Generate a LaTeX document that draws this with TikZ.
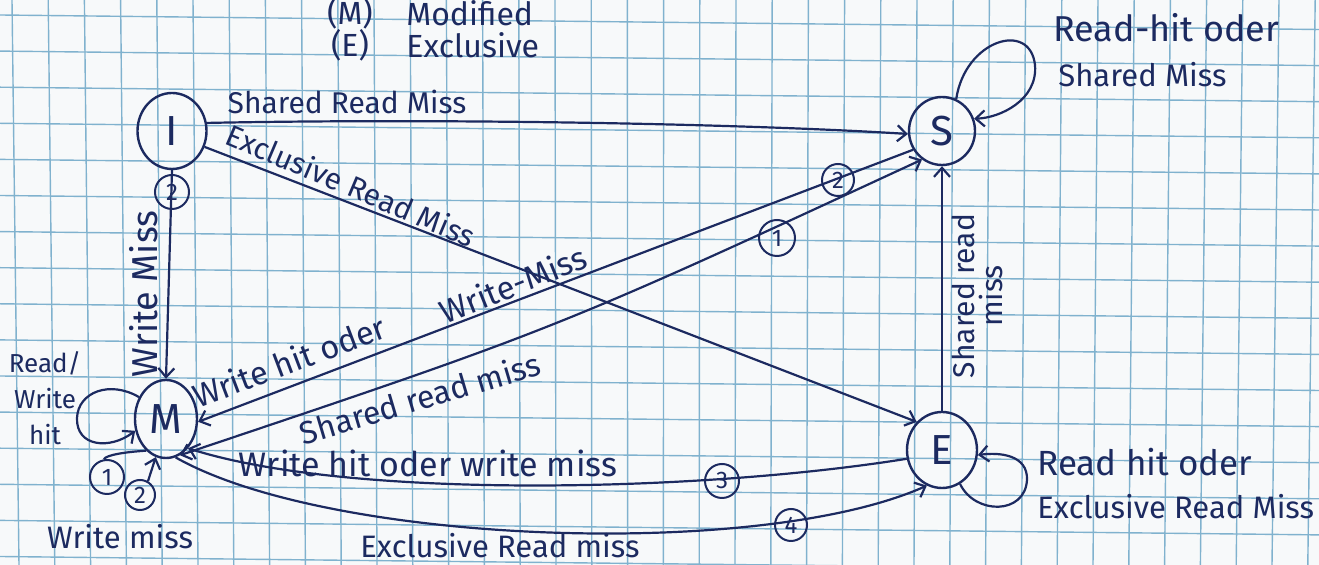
\documentclass[tikz,border=0pt]{standalone}
\usepackage{fontspec}
\setmainfont{Fira Sans}
\usetikzlibrary{arrows.meta,shapes.geometric}
\definecolor{ink}{RGB}{28,42,96}
\definecolor{paper}{RGB}{247,249,250}
\definecolor{gridblue}{RGB}{128,178,206}
\newcommand\inksize[1]{\fontsize{#1}{#1}\selectfont}

\begin{document}
\begin{tikzpicture}[x=0.5pt,y=-0.5pt,
  stnode/.style={draw=ink, line width=1.2pt, ellipse, inner sep=0pt, text=ink, font=\inksize{21}},
  numring/.style={draw=ink, line width=1pt, circle, inner sep=0pt, minimum size=16pt, text=ink, font=\inksize{12}},
  wire/.style={draw=ink, line width=1.1pt},
  tipped/.style={wire, -{Straight Barb[length=4.5pt,width=8pt]}},
  twoheads/.style={wire, {Straight Barb[length=4.5pt,width=8pt]}-{Straight Barb[length=4.5pt,width=8pt]}},
  lbl/.style={text=ink, inner sep=0pt},
  gridline/.style={draw=gridblue, line width=0.7pt},
]
\useasboundingbox (0,0) rectangle (1319,565);

% squared paper
\begin{scope}
  \clip (0,0) rectangle (1319,565);
  \fill[paper] (0,0) rectangle (1319,565);
  \foreach \k in {0,...,36} {
    \pgfmathsetmacro{\xt}{12+36.2*\k}
    \pgfmathsetmacro{\xb}{\xt+7-0.4*\k}
    \draw[gridline] (\xt,0) -- (\xb,565);
  }
  \foreach \j in {0,...,15} {
    \pgfmathsetmacro{\yl}{15+36.1*\j}
    \pgfmathsetmacro{\yr}{\yl+14.5}
    \draw[gridline] (0,\yl) -- (1319,\yr);
  }
\end{scope}

% legend
\node[lbl, font=\inksize{16}] (legM) at (350,13) {(M)};
\node[lbl, font=\inksize{16}, anchor=west] (legMod) at (406,13) {Modified};
\node[lbl, font=\inksize{16}] (legE) at (350,45) {(E)};
\node[lbl, font=\inksize{16}, anchor=west] (legExc) at (406,45) {Exclusive};

% states
\node[stnode, minimum width=34.5pt, minimum height=38pt] (I) at (172,131) {I};
\node[stnode, minimum width=33pt, minimum height=34pt] (S) at (942,131) {S};
\node[stnode, minimum width=31pt, minimum height=39pt] (M) at (166,419) {M};
\node[stnode, minimum width=35pt, minimum height=38pt] (E) at (942,450) {E};

% transitions out of I
\draw[tipped] (I.13) .. controls (450,118) and (750,124) .. (S.185);
\node[lbl, font=\inksize{15}] (tIS) at (347,102) {Shared Read Miss};

\draw[tipped] (I.-26) -- (E.132);
\node[lbl, font=\inksize{15}, rotate=-23] (tIE) at (351,185) {Exclusive Read Miss};

\draw[tipped] (I.south) -- (M.north);
\node[numring, minimum size=17pt] (nIM) at (172,192) {2};
\node[lbl, font=\inksize{18}, rotate=90] (tIM) at (144,294) {Write Miss};

% S <-> M
\draw[tipped] (S.213) -- (M.-5);
\node[numring] (nSM) at (838,180) {2};
\node[lbl, font=\inksize{16.3}, rotate=20.7] (tSMa) at (289,361) {Write hit oder};
\node[lbl, font=\inksize{16.3}, rotate=22] (tSMb) at (513,284) {Write-Miss};

\draw[twoheads] (M.-69) .. controls (556,329) .. (S.235);
\node[numring, minimum size=18pt] (nMS) at (777,238) {1};
\node[lbl, font=\inksize{16}, rotate=16.5] (tMS) at (420,398) {Shared read miss};

% E -> S
\draw[tipped] (E.north) -- (S.south);
\node[lbl, font=\fontsize{15}{14}\selectfont, rotate=90, align=center] (tES) at (977,296) {Shared read\\miss};

% E <-> M
\draw[tipped] (E.194) .. controls (700,492) and (350,500) .. (M.-53);
\node[numring, minimum size=17pt] (nEM) at (722,481) {3};
\node[lbl, font=\inksize{17}] (tEM) at (428,463) {Write hit oder write miss};

\draw[tipped] (M.-76) .. controls (330,545) and (760,560) .. (E.247);
\node[numring] (nME) at (791,525) {4};
\node[lbl, font=\inksize{15.5}] (tME) at (500,546) {Exclusive Read miss};

% self loops
\draw[tipped] (M.141) .. controls (110,380) and (78,392) .. (77,418)
  .. controls (76,447) and (110,450) .. (M.201);
\node[lbl, font=\fontsize{13}{18}\selectfont, align=center] (tMM) at (45,398) {Read/\\Write\\hit};

\node[numring, minimum size=17pt] (m1) at (107,477) {1};
\node[numring, minimum size=15pt] (m2) at (140,495) {2};
\draw[wire] (M.238) .. controls (125,452) and (106,455) .. (m1.100);
\draw[tipped] (m2.60) -- (M.255);
\node[lbl, font=\inksize{15.5}] (tMW) at (120,537) {Write miss};

\draw[tipped] (S.66) .. controls (965,40) and (1030,20) .. (1035,65)
  .. controls (1038,100) and (1000,118) .. (S.21);
\node[lbl, font=\inksize{18}, anchor=west] (tSSa) at (1053,28) {Read-hit oder};
\node[lbl, font=\inksize{15.5}, anchor=west] (tSSb) at (1058,75) {Shared Miss};

\draw[tipped] (E.-62) .. controls (975,515) and (1025,515) .. (1027,480)
  .. controls (1028,455) and (1000,452) .. (E.-8);
\node[lbl, font=\inksize{17.5}, anchor=west] (tEEa) at (1037,462) {Read hit oder};
\node[lbl, font=\inksize{15.5}, anchor=west] (tEEb) at (1037,507) {Exclusive Read Miss};

\end{tikzpicture}
\end{document}
